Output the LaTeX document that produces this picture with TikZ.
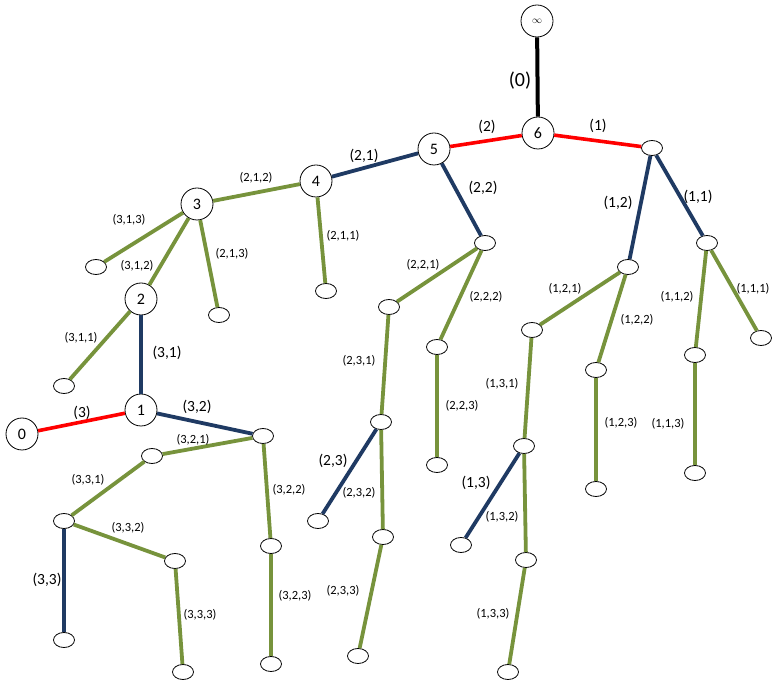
\documentclass[tikz,border=0pt]{standalone}
\usepackage{fontspec}
\setmainfont{Carlito}
\usetikzlibrary{shapes.geometric}
\definecolor{myred}{HTML}{FF0000}
\definecolor{mynavy}{HTML}{1F3A63}
\definecolor{mygreen}{HTML}{77933C}
\tikzset{
  bignode/.style={circle,draw=black,fill=white,line width=0.8pt,minimum size=32pt,inner sep=0pt,font=\fontsize{16}{16}\selectfont},
  leafnode/.style={ellipse,draw=black,fill=white,line width=0.8pt,minimum width=21pt,minimum height=15pt,inner sep=0pt},
  blk/.style={draw=black,line width=4pt},
  redge/.style={draw=myred,line width=3.6pt},
  nedge/.style={draw=mynavy,line width=3.8pt},
  gedge/.style={draw=mygreen,line width=3.8pt},
  biglab/.style={inner sep=0pt,font=\fontsize{15.5}{16}\selectfont},
  smalllab/.style={inner sep=0pt,font=\fontsize{12.5}{13}\selectfont},
  zerolab/.style={inner sep=0pt,font=\fontsize{20}{20}\selectfont}
}
\begin{document}
\begin{tikzpicture}[x=1pt,y=-1pt]
\useasboundingbox (0,0) rectangle (772,684);
% main circles
\node[bignode] (inf) at (537,21) {\fontsize{10}{10}\selectfont$\infty$};
\node[bignode] (n6) at (538,133) {6};
\node[bignode] (n5) at (434,149) {5};
\node[bignode] (n4) at (316,181) {4};
\node[bignode] (n3) at (197,204) {3};
\node[bignode] (n2) at (141,299) {2};
\node[bignode] (n1) at (141,410) {1};
\node[bignode] (n0) at (22,434) {0};
% ellipses
\node[leafnode] (a) at (652,148) {};
\node[leafnode] (c11) at (707,243) {};
\node[leafnode] (c12) at (628,267) {};
\node[leafnode] (b) at (485,243) {};
\node[leafnode] (t211) at (326,291) {};
\node[leafnode] (t313) at (96,267) {};
\node[leafnode] (t213) at (219,315) {};
\node[leafnode] (t311) at (64,386) {};
\node[leafnode] (d) at (263,436) {};
\node[leafnode] (e) at (152,456) {};
\node[leafnode] (f) at (271,546) {};
\node[leafnode] (t323) at (271,664) {};
\node[leafnode] (g) at (64,521) {};
\node[leafnode] (t33) at (64,640) {};
\node[leafnode] (h) at (175,561) {};
\node[leafnode] (t333) at (183,672) {};
\node[leafnode] (i) at (389,307) {};
\node[leafnode] (j) at (437,347) {};
\node[leafnode] (t223) at (437,465) {};
\node[leafnode] (k) at (381,422) {};
\node[leafnode] (t23) at (318,521) {};
\node[leafnode] (l) at (383,537) {};
\node[leafnode] (t233) at (358,656) {};
\node[leafnode] (m) at (532,330) {};
\node[leafnode] (n) at (596,370) {};
\node[leafnode] (t123) at (596,489) {};
\node[leafnode] (o) at (524,446) {};
\node[leafnode] (t13) at (461,545) {};
\node[leafnode] (p) at (526,560) {};
\node[leafnode] (t133) at (508,672) {};
\node[leafnode] (t111) at (761,338) {};
\node[leafnode] (q) at (695,355) {};
\node[leafnode] (t113) at (695,473) {};
% edges
\draw[blk] (inf) -- (n6);
\draw[redge] (n6) -- (n5);
\draw[redge] (n6) -- (a);
\draw[redge] (n1) -- (n0);
\draw[nedge] (n5) -- (n4);
\draw[nedge] (n5) -- (b);
\draw[nedge] (a) -- (c11);
\draw[nedge] (a) -- (c12);
\draw[nedge] (n2) -- (n1);
\draw[nedge] (n1) -- (d);
\draw[nedge] (g) -- (t33);
\draw[nedge] (k) -- (t23);
\draw[nedge] (o) -- (t13);
\draw[gedge] (n4) -- (n3);
\draw[gedge] (n4) -- (t211);
\draw[gedge] (n3) -- (t313);
\draw[gedge] (n3) -- (n2);
\draw[gedge] (n3) -- (t213);
\draw[gedge] (n2) -- (t311);
\draw[gedge] (d) -- (e);
\draw[gedge] (d) -- (f);
\draw[gedge] (f) -- (t323);
\draw[gedge] (e) -- (g);
\draw[gedge] (g) -- (h);
\draw[gedge] (h) -- (t333);
\draw[gedge] (b) -- (i);
\draw[gedge] (b) -- (j);
\draw[gedge] (j) -- (t223);
\draw[gedge] (i) -- (k);
\draw[gedge] (k) -- (l);
\draw[gedge] (l) -- (t233);
\draw[gedge] (c12) -- (m);
\draw[gedge] (c12) -- (n);
\draw[gedge] (n) -- (t123);
\draw[gedge] (m) -- (o);
\draw[gedge] (o) -- (p);
\draw[gedge] (p) -- (t133);
\draw[gedge] (c11) -- (t111);
\draw[gedge] (c11) -- (q);
\draw[gedge] (q) -- (t113);
% labels
\node[zerolab] (L0) at (520,81) {(0)};
\node[biglab] (L2) at (487,127) {(2)};
\node[biglab] (L1) at (598,126) {(1)};
\node[biglab] (L3) at (82,413) {(3)};
\node[biglab] (L21) at (364,156) {(2,1)};
\node[biglab] (L22) at (483,188) {(2,2)};
\node[biglab] (L12) at (618,203) {(1,2)};
\node[biglab] (L11) at (698,197) {(1,1)};
\node[biglab] (L31) at (167,353) {(3,1)};
\node[biglab] (L32) at (197,407) {(3,2)};
\node[biglab] (L33) at (47,580) {(3,3)};
\node[biglab] (L23) at (333,461) {(2,3)};
\node[biglab] (L13) at (476,483) {(1,3)};
\node[smalllab] (L212) at (256,178) {(2,1,2)};
\node[smalllab] (L313) at (129,220) {(3,1,3)};
\node[smalllab] (L211) at (343,236) {(2,1,1)};
\node[smalllab] (L312) at (137,266) {(3,1,2)};
\node[smalllab] (L213) at (232,254) {(2,1,3)};
\node[smalllab] (L311) at (81,338) {(3,1,1)};
\node[smalllab] (L321) at (193,440) {(3,2,1)};
\node[smalllab] (L331) at (88,480) {(3,3,1)};
\node[smalllab] (L332) at (128,528) {(3,3,2)};
\node[smalllab] (L322) at (289,490) {(3,2,2)};
\node[smalllab] (L333) at (200,615) {(3,3,3)};
\node[smalllab] (L323) at (295,596) {(3,2,3)};
\node[smalllab] (L221) at (423,265) {(2,2,1)};
\node[smalllab] (L222) at (486,297) {(2,2,2)};
\node[smalllab] (L231) at (359,361) {(2,3,1)};
\node[smalllab] (L223) at (462,406) {(2,2,3)};
\node[smalllab] (L131) at (502,384) {(1,3,1)};
\node[smalllab] (L232) at (359,493) {(2,3,2)};
\node[smalllab] (L233) at (343,591) {(2,3,3)};
\node[smalllab] (L132) at (502,517) {(1,3,2)};
\node[smalllab] (L133) at (493,614) {(1,3,3)};
\node[smalllab] (L121) at (565,289) {(1,2,1)};
\node[smalllab] (L122) at (637,320) {(1,2,2)};
\node[smalllab] (L112) at (677,297) {(1,1,2)};
\node[smalllab] (L111) at (753,289) {(1,1,1)};
\node[smalllab] (L123) at (621,423) {(1,2,3)};
\node[smalllab] (L113) at (668,424) {(1,1,3)};
\end{tikzpicture}
\end{document}
